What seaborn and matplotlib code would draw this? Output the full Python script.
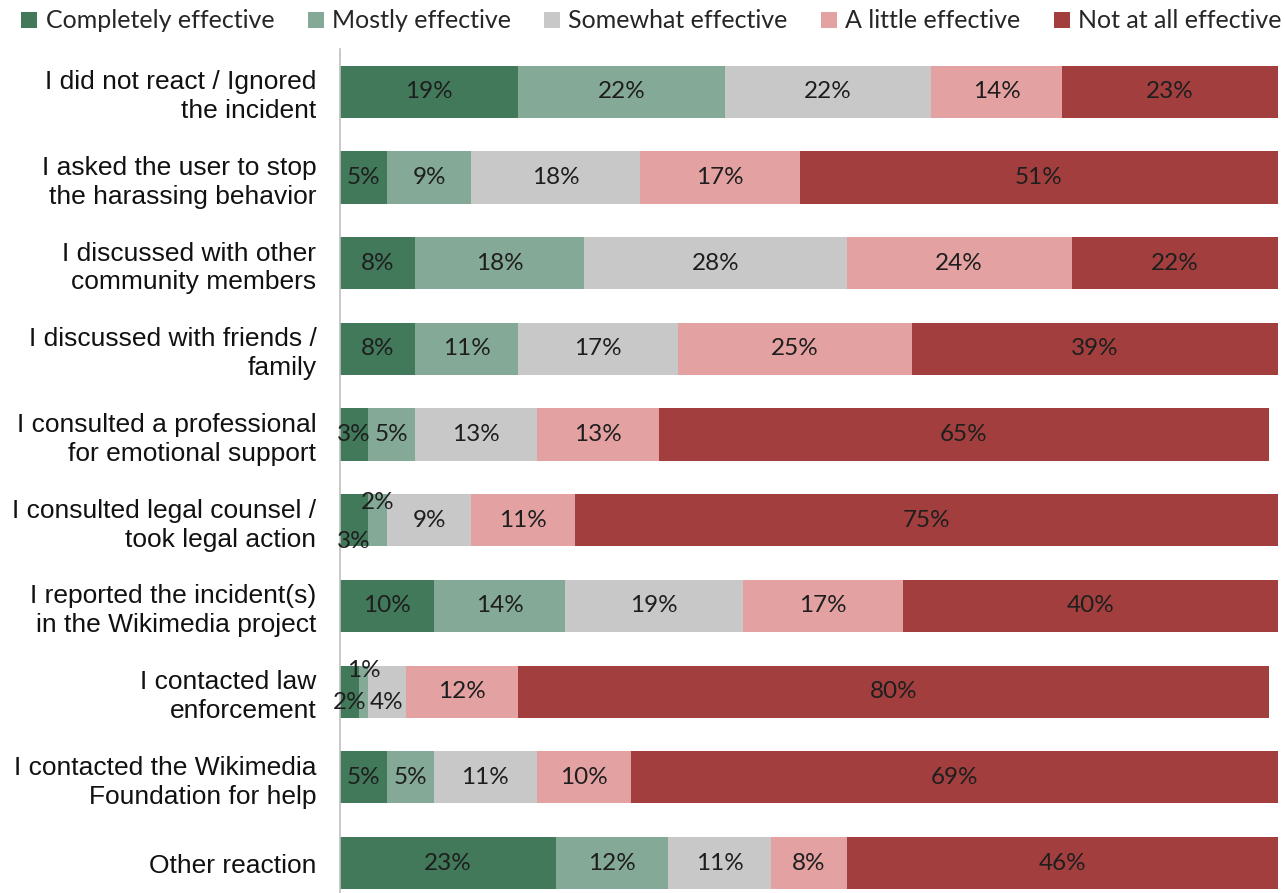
import numpy as np
import pandas as pd
import matplotlib
matplotlib.use("Agg")
import matplotlib.pyplot as plt
from matplotlib.lines import Line2D
import seaborn as sns

reactions = [
    "I did not react / Ignored\nthe incident",
    "I asked the user to stop\nthe harassing behavior",
    "I discussed with other\ncommunity members",
    "I discussed with friends /\nfamily",
    "I consulted a professional\nfor emotional support",
    "I consulted legal counsel /\ntook legal action",
    "I reported the incident(s)\nin the Wikimedia project",
    "I contacted law\nenforcement",
    "I contacted the Wikimedia\nFoundation for help",
    "Other reaction",
]
levels = ["Completely effective", "Mostly effective", "Somewhat effective",
          "A little effective", "Not at all effective"]

completely = [19, 5, 8, 8, 3, 3, 10, 2, 5, 23]
mostly = [22, 9, 18, 11, 5, 2, 14, 1, 5, 12]
somewhat = [22, 18, 28, 17, 13, 9, 19, 4, 11, 11]
a_little = [14, 17, 24, 25, 13, 11, 17, 12, 10, 8]
not_at_all = [23, 51, 22, 39, 65, 75, 40, 80, 69, 46]

colors = ["#41795a", "#84a996", "#c8c8c8", "#e3a1a1", "#a23f3e"]

series = [completely, mostly, somewhat, a_little, not_at_all]
df = pd.DataFrame({lvl: vals for lvl, vals in zip(levels, series)}, index=reactions)
cum = df.cumsum(axis=1)

sns.set_theme(style="white")
plt.rcParams["font.family"] = ["Lato", "DejaVu Sans"]

fig = plt.figure(figsize=(12.85, 8.93), dpi=100)
ax = fig.add_axes([340 / 1285, 0.0, (1278 - 340) / 1285, (893 - 49) / 893])

# stacked bars: draw cumulative totals from the outermost segment inwards
for lvl, col in zip(levels[::-1], colors[::-1]):
    sns.barplot(x=cum[lvl].values, y=reactions, orient="h", color=col,
                width=0.61, saturation=1, ax=ax, linewidth=0)

# segment labels; tiny segments get nudged up or down so they stay legible
nudge = {(5, 0): 15, (5, 1): -13, (7, 0): 8, (7, 1): -15, (7, 2): 8}
for i in range(len(reactions)):
    start = 0
    for j, lvl in enumerate(levels):
        v = df.iloc[i, j]
        xc = start + v / 2
        dy = nudge.get((i, j), 0)
        ax.annotate(f"{v}%", (xc, i), xytext=(0, -dy), textcoords="offset points",
                    ha="center", va="center", fontsize=17.5, color="#1e1e1e",
                    family=["Lato", "DejaVu Sans"])
        start += v

ax.set_xlim(0, 100)
ax.set_ylim(9.35, -0.5)
ax.set_xlabel("")
ax.set_ylabel("")
ax.set_xticks([])
ax.tick_params(axis="y", length=0, pad=17)
for lab in ax.get_yticklabels():
    lab.set_fontfamily(["Liberation Sans", "DejaVu Sans"])
    lab.set_fontsize(19)
    lab.set_color("#111111")
    lab.set_multialignment("right")
    lab.set_linespacing(1.25)
for s in ["top", "right", "bottom"]:
    ax.spines[s].set_visible(False)
ax.spines["left"].set_color("#bfbfbf")
ax.spines["left"].set_linewidth(1.2)

handles = [Line2D([0], [0], marker="s", linestyle="", markersize=11,
                  markerfacecolor=c, markeredgewidth=0) for c in colors]
fig.legend(handles, levels, loc="center", bbox_to_anchor=(651 / 1285, 1 - 21 / 893),
           ncol=5, frameon=False, fontsize=18, handlelength=0.7,
           handletextpad=0.3, columnspacing=1.3, borderaxespad=0)

fig.savefig("out.png", dpi=100)
